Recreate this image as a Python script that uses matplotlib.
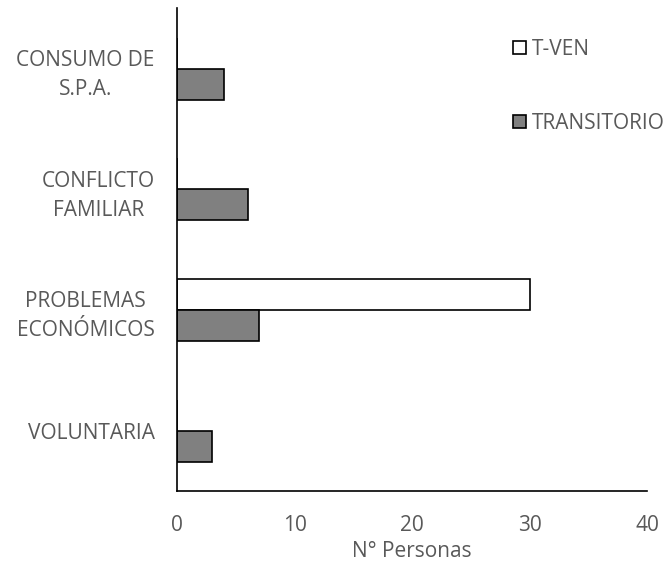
import numpy as np
import matplotlib.pyplot as plt

plt.rcParams['font.family'] = ['Open Sans', 'DejaVu Sans']

# motivos, de arriba hacia abajo
motivos = ["CONSUMO DE\nS.P.A.", "CONFLICTO\nFAMILIAR", "PROBLEMAS\nECONÓMICOS", "VOLUNTARIA"]
t_ven = [0, 0, 30, 0]
transitorio = [4, 6, 7, 3]

gris = "#595959"
fs = 15
h = 0.257
y = np.arange(len(motivos))[::-1]

fig = plt.figure(figsize=(6.63, 5.68), dpi=100)
ax = fig.add_axes([0.267, 0.1356, 0.709, 0.850])

ax.barh(y + h / 2, t_ven, height=h, color="white", edgecolor="black", linewidth=1.2, label="T-VEN")
ax.barh(y - h / 2, transitorio, height=h, color="#808080", edgecolor="black", linewidth=1.2,
        label="TRANSITORIO")

ax.set_xlim(0, 40)
ax.set_ylim(-0.5, len(motivos) - 0.5)
ax.set_xticks([0, 10, 20, 30, 40])
ax.set_yticks(y)
ax.set_yticklabels(motivos, multialignment="center", linespacing=1.5)
ax.tick_params(axis="both", length=0, labelsize=fs, colors=gris)
ax.tick_params(axis="y", pad=16)
ax.tick_params(axis="x", pad=17)
ax.set_xlabel("N° Personas", fontsize=fs, color=gris, labelpad=4)

for s in ["top", "right"]:
    ax.spines[s].set_visible(False)
for s in ["left", "bottom"]:
    ax.spines[s].set_color("black")
    ax.spines[s].set_linewidth(1.2)

leg = ax.legend(loc="upper left", bbox_to_anchor=(0.675, 0.975), frameon=False, fontsize=fs,
                handlelength=0.6, handleheight=0.6, handletextpad=0.3, labelspacing=2.55)
for t in leg.get_texts():
    t.set_color(gris)

fig.savefig("out.png", dpi=100)
